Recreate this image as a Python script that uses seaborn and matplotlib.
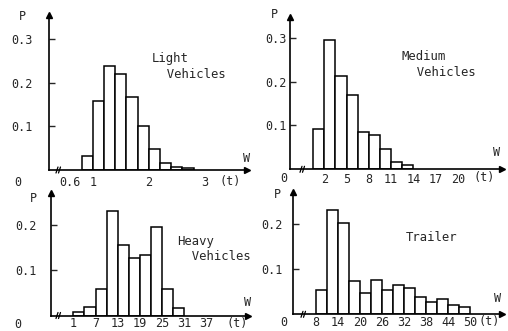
import matplotlib
matplotlib.use('Agg')
import matplotlib.pyplot as plt
import seaborn as sns
import numpy as np
import pandas as pd
from matplotlib.lines import Line2D

# ---------------- data ----------------
light_edges = [0.8, 1.0, 1.2, 1.4, 1.6, 1.8, 2.0, 2.2, 2.4, 2.6, 2.8]
light_p = [0.033, 0.158, 0.238, 0.219, 0.168, 0.101, 0.049, 0.017, 0.008, 0.005]
light_ticks = [0.6, 1, 2, 3]
light_ticklabels = ['0.6', '1', '2', '3']

medium_edges = [0.5, 2, 3.5, 5, 6.5, 8, 9.5, 11, 12.5, 14]
medium_p = [0.091, 0.295, 0.212, 0.169, 0.086, 0.078, 0.047, 0.017, 0.010]
medium_ticks = [2, 5, 8, 11, 14, 17, 20]
medium_ticklabels = ['2', '5', '8', '11', '14', '17', '20']

heavy_edges = [1, 4, 7, 10, 13, 16, 19, 22, 25, 28, 31]
heavy_p = [0.007, 0.019, 0.058, 0.233, 0.156, 0.128, 0.134, 0.197, 0.058, 0.017]
heavy_ticks = [1, 7, 13, 19, 25, 31, 37]
heavy_ticklabels = ['1', '7', '13', '19', '25', '31', '37']

trailer_edges = [8, 11, 14, 17, 20, 23, 26, 29, 32, 35, 38, 41, 44, 47, 50]
trailer_p = [0.053, 0.232, 0.204, 0.075, 0.048, 0.076, 0.054, 0.066, 0.059,
             0.039, 0.027, 0.033, 0.021, 0.016]
trailer_ticks = [8, 14, 20, 26, 32, 38, 44, 50]
trailer_ticklabels = ['8', '14', '20', '26', '32', '38', '44', '50']

titles = ['Light\n  Vehicles', 'Medium\n  Vehicles', 'Heavy\n  Vehicles', 'Trailer']

# ---------------- style ----------------
sns.set_style('white')
plt.rcParams['font.family'] = ['DejaVu Sans Mono', 'DejaVu Sans']
W, H = 508, 331
fig = plt.figure(figsize=(W / 100, H / 100), dpi=100)


def fx(x):
    return x / W


def fy(y):
    return 1 - y / H


# pixel geometry: left, right, baseline, top, xlim, ylim_top, ytick pad
panels = [
    dict(edges=light_edges, p=light_p, ticks=light_ticks, tl=light_ticklabels,
         yt=[0.1, 0.2, 0.3], l=49, r=247, b=170, t=15, xlim=(0.2196, 3.755),
         ytop=0.3547, ypad=11.5, xpad=4,
         P=(22, 17), zero=(18, 182), tlab=(230, 182), Wl=(247, 158), brk=57,
         title=(152, 52)),
    dict(edges=medium_edges, p=medium_p, ticks=medium_ticks, tl=medium_ticklabels,
         yt=[0.1, 0.2, 0.3], l=290, r=502, b=169.3, t=17, xlim=(-2.62, 25.95),
         ytop=0.347, ypad=2.5, xpad=2.5,
         P=(274, 14), zero=(284, 178), tlab=(484, 178), Wl=(497, 153), brk=301,
         title=(402, 50)),
    dict(edges=heavy_edges, p=heavy_p, ticks=heavy_ticks, tl=heavy_ticklabels,
         yt=[0.1, 0.2], l=50.7, r=248, b=315.5, t=193, xlim=(-5.11, 48.2),
         ytop=0.272, ypad=10, xpad=1.2,
         P=(33, 198), zero=(18, 324), tlab=(237, 323), Wl=(248, 302), brk=57,
         title=(177, 235)),
    dict(edges=trailer_edges, p=trailer_p, ticks=trailer_ticks, tl=trailer_ticklabels,
         yt=[0.1, 0.2], l=293.3, r=502, b=314.3, t=192, xlim=(1.81, 58.7),
         ytop=0.272, ypad=8, xpad=1.5,
         P=(277, 195), zero=(284, 322), tlab=(489, 322), Wl=(498, 298), brk=302,
         title=(406, 231)),
]

for cfg, title in zip(panels, titles):
    ax = fig.add_axes([fx(cfg['l']), fy(cfg['b']),
                       (cfg['r'] - cfg['l']) / W, (cfg['b'] - cfg['t']) / H])
    edges = [float(e) for e in cfg['edges']]
    centers = [(a + b) / 2 for a, b in zip(edges[:-1], edges[1:])]
    df = pd.DataFrame({'w': centers, 'p': cfg['p']})
    sns.histplot(data=df, x='w', weights='p', bins=edges, ax=ax,
                 color='white', edgecolor='black', linewidth=1.1, alpha=1)
    ax.set_xlim(*cfg['xlim'])
    ax.set_ylim(0, cfg['ytop'])
    ax.set_xlabel('')
    ax.set_ylabel('')
    ax.set_facecolor('none')
    for s in ['top', 'right']:
        ax.spines[s].set_visible(False)
    for s in ['left', 'bottom']:
        ax.spines[s].set_linewidth(1.2)
        ax.spines[s].set_color('black')
    ax.set_yticks(cfg['yt'])
    ax.set_yticklabels([f'{v:.1f}' for v in cfg['yt']])
    ax.set_xticks(cfg['ticks'])
    ax.set_xticklabels(cfg['tl'])
    ax.tick_params(axis='y', direction='in', length=4, width=1, pad=cfg['ypad'],
                   labelsize=8.5, left=True)
    ax.tick_params(axis='x', length=0, pad=cfg['xpad'], labelsize=8.5)
    # arrowheads
    ax.plot(1, 0, marker='>', color='black', markersize=4,
            transform=ax.transAxes, clip_on=False)
    ax.plot(0, 1, marker='^', color='black', markersize=4,
            transform=ax.transAxes, clip_on=False)
    # labels
    fig.text(fx(cfg['P'][0]), fy(cfg['P'][1]), 'P', fontsize=8.5,
             ha='center', va='center')
    fig.text(fx(cfg['zero'][0]), fy(cfg['zero'][1]), '0', fontsize=8.5,
             ha='center', va='center')
    fig.text(fx(cfg['tlab'][0]), fy(cfg['tlab'][1]), '(t)', fontsize=8.5,
             ha='center', va='center')
    fig.text(fx(cfg['Wl'][0]), fy(cfg['Wl'][1]), 'W', fontsize=8.5,
             ha='center', va='center')
    fig.text(fx(cfg['title'][0]), fy(cfg['title'][1]), title, fontsize=8.8,
             ha='left', va='top', linespacing=1.25)
    # axis break mark
    bx, by = cfg['brk'], cfg['b']
    for dx in (0, 2.5):
        fig.add_artist(Line2D([fx(bx + dx - 1), fx(bx + dx + 1)],
                              [fy(by + 3), fy(by - 3)],
                              color='black', linewidth=0.9,
                              transform=fig.transFigure))

fig.savefig('out.png', dpi=100, facecolor='white')
